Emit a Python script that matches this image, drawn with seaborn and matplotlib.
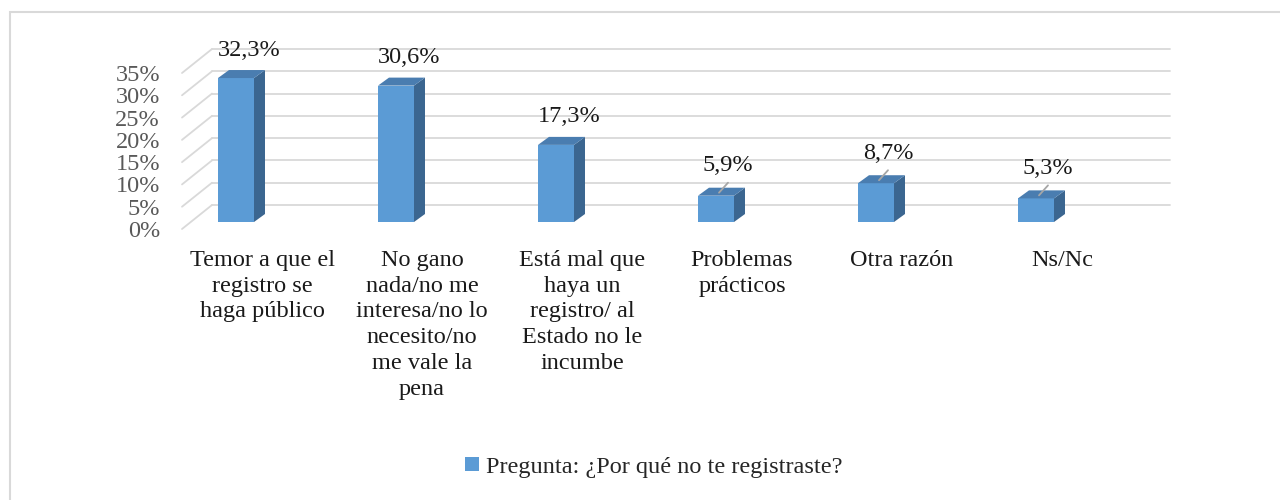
import numpy as np
import pandas as pd
import seaborn as sns
import matplotlib.pyplot as plt
from matplotlib.patches import Polygon, Rectangle
from matplotlib.transforms import ScaledTranslation

categories = ['Temor a que el\nregistro se\nhaga público',
              'No gano\nnada/no me\ninteresa/no lo\nnecesito/no\nme vale la\npena',
              'Está mal que\nhaya un\nregistro/ al\nEstado no le\nincumbe',
              'Problemas\nprácticos',
              'Otra razón',
              'Ns/Nc']
values = [32.3, 30.6, 17.3, 5.9, 8.7, 5.3]
y_ticks = [0, 5, 10, 15, 20, 25, 30, 35]
series_name = 'Pregunta: ¿Por qué no te registraste?'

front = '#5B9BD5'
side = '#3B6690'
top = '#4A7DB0'
grid = '#D9D9D9'
fs = 17.5

sns.set_theme(style='white')
plt.rcParams['font.family'] = ['Liberation Serif', 'DejaVu Serif']

df = pd.DataFrame({'cat': categories, 'val': values})

fig = plt.figure(figsize=(12.8, 5), dpi=100)
# axes = plane of the bar fronts
ax = fig.add_axes([156 / 1280, 1 - 222 / 500, 960 / 1280, 156 / 500])
sns.barplot(data=df, x='cat', y='val', color=front, saturation=1, width=0.225,
            linewidth=0, ax=ax, zorder=3)
ax.set_xlim(-0.5, 5.5)
ax.set_ylim(0, 35)

px_x = 1 / 160          # data units per pixel, x
px_y = 35 / 156         # data units per pixel, y

# back wall gridlines + side-wall diagonals
x_front, x_back0, x_back1 = (182 - 156) * px_x - 0.5, (212 - 156) * px_x - 0.5, (1170 - 156) * px_x - 0.5
for v in y_ticks:
    yb = v + 17 * px_y
    yf = v - 7 * px_y
    ax.plot([x_back0, x_back1], [yb, yb], color=grid, lw=1.3, zorder=1, clip_on=False)
    ax.plot([x_front, x_back0], [yf, yb], color=grid, lw=1.3, zorder=1, clip_on=False)

# 3d side and top faces
dx, dy = 11 * px_x, 8 * px_y
for p in ax.patches:
    x0, w, h = p.get_x(), p.get_width(), p.get_height()
    ax.add_patch(Polygon([(x0 + w, 0), (x0 + w + dx, dy), (x0 + w + dx, h + dy), (x0 + w, h)],
                         closed=True, facecolor=side, edgecolor='none', zorder=3))
    ax.add_patch(Polygon([(x0, h), (x0 + dx, h + dy), (x0 + w + dx, h + dy), (x0 + w, h)],
                         closed=True, facecolor=top, edgecolor='none', zorder=3))

# data labels
for i, v in enumerate(values):
    txt = f'{v:.1f}%'.replace('.', ',')
    if v < 10:
        ax.plot([i + 3 * px_x, i + 12 * px_x], [v + 3 * px_y, v + 13 * px_y],
                color='#A6A6A6', lw=1.3, zorder=4)
        ax.text(i + 12 * px_x, v + 30 * px_y, txt, ha='center', va='center',
                fontsize=fs, color='#1a1a1a', zorder=5)
    else:
        ax.text(i + 13 * px_x, v + 28 * px_y, txt, ha='center', va='center',
                fontsize=fs, color='#1a1a1a', clip_on=False, zorder=5)

# axes styling
for s in ax.spines.values():
    s.set_visible(False)
ax.set_xlabel('')
ax.set_ylabel('')
ax.set_xticks(np.arange(len(categories)) + 26 * px_x)
ax.set_xticklabels(categories, fontsize=fs, color='#1a1a1a', linespacing=1.3)
ax.set_yticks(y_ticks)
ax.set_yticklabels([f'{t}%' for t in y_ticks], fontsize=fs, color='#595959')
ax.tick_params(axis='both', length=0)
ax.tick_params(axis='x', pad=20)
ax.tick_params(axis='y', pad=0)
for lbl in ax.get_yticklabels():
    lbl.set_transform(lbl.get_transform() + ScaledTranslation(0.04, -0.07, fig.dpi_scale_trans))

# legend
fig.legend(handles=[ax.patches[0]], labels=[series_name], loc='center',
           bbox_to_anchor=(654 / 1280, 1 - 467 / 500), frameon=False,
           fontsize=fs, handlelength=0.55, handleheight=0.55, handletextpad=0.3)

# chart border
fig.patches.append(Rectangle((10 / 1280, -0.05), 1.1, 1.05 - 12 / 500,
                             transform=fig.transFigure, fill=False,
                             edgecolor=grid, lw=1.5))

fig.savefig('out.png', dpi=100)
